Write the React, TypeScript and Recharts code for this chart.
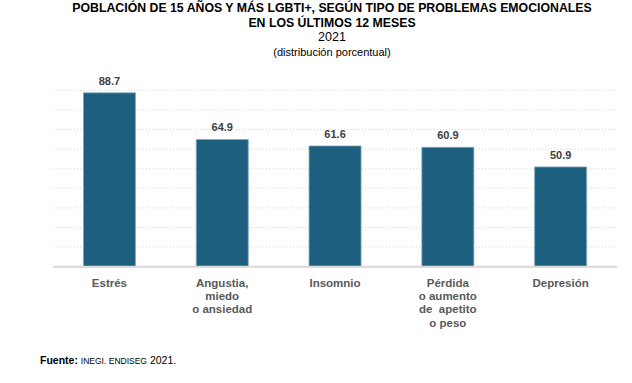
import React from 'react';
import { BarChart, Bar, XAxis, YAxis, CartesianGrid, LabelList } from 'recharts';

const categories = ['Estrés', 'Angustia,\nmiedo\no ansiedad', 'Insomnio', 'Pérdida\no aumento\nde  apetito\no peso', 'Depresión'];
const values = [88.7, 64.9, 61.6, 60.9, 50.9];
const yTicks = [0, 10, 20, 30, 40, 50, 60, 70, 80, 90];

const data = categories.map((name, i) => ({ name, value: values[i] }));

const FONT = '"Liberation Sans", Arial, sans-serif';

const CategoryTick = (props: any) => {
  const { x, y, payload } = props;
  const lines = String(payload.value).split('\n');
  return (
    <g transform={`translate(${x},${y})`}>
      {lines.map((line: string, i: number) => (
        <text
          key={i}
          x={0}
          y={12 + i * 13.4}
          textAnchor="middle"
          fill="#595959"
          fontSize={11.5}
          fontWeight="bold"
          fontFamily={FONT}
          style={{ whiteSpace: 'pre' }}
        >
          {line}
        </text>
      ))}
    </g>
  );
};

export default function App() {
  return (
    <div style={{ position: 'absolute', left: 0, top: 0, width: 632, height: 383, background: '#fff', fontFamily: FONT }}>
      <div style={{ position: 'absolute', left: 0, width: 664, top: 1, textAlign: 'center', color: '#000' }}>
        <div style={{ fontSize: 12.3, fontWeight: 'bold', lineHeight: '14.5px' }}>
          POBLACIÓN DE 15 AÑOS Y MÁS LGBTI+, SEGÚN TIPO DE PROBLEMAS EMOCIONALES
        </div>
        <div style={{ fontSize: 12.3, fontWeight: 'bold', lineHeight: '14.5px' }}>EN LOS ÚLTIMOS 12 MESES</div>
        <div style={{ fontSize: 12.5, lineHeight: '15px' }}>2021</div>
        <div style={{ fontSize: 11, lineHeight: '13px', marginTop: 1 }}>(distribución porcentual)</div>
      </div>
      <BarChart
        width={632}
        height={383}
        data={data}
        margin={{ top: 90.3, right: 15, left: 53, bottom: 16.3 }}
        barCategoryGap="27%"
      >
        <CartesianGrid vertical={false} stroke="#d6d6d6" strokeDasharray="1 2" />
        <YAxis hide domain={[0, 90]} ticks={yTicks} interval={0} />
        <XAxis
          dataKey="name"
          height={100}
          axisLine={{ stroke: '#d9d9d9', strokeWidth: 2 }}
          tickLine={false}
          interval={0}
          tick={<CategoryTick />}
        />
        <Bar dataKey="value" fill="#1c5f7f" stroke="#7fa8bf" strokeWidth={0.8} isAnimationActive={false}>
          <LabelList
            dataKey="value"
            position="top"
            offset={8}
            formatter={(v: any) => Number(v).toFixed(1)}
            style={{ fill: '#404040', fontSize: 11, fontWeight: 'bold', fontFamily: FONT }}
          />
        </Bar>
      </BarChart>
      <div style={{ position: 'absolute', left: 40, top: 354, fontSize: 10.5, color: '#000', whiteSpace: 'nowrap' }}>
        <span style={{ fontWeight: 'bold' }}>Fuente:</span>{' '}
        <span style={{ fontSize: 8.5 }}>INEGI. ENDISEG</span> 2021.
      </div>
    </div>
  );
}
